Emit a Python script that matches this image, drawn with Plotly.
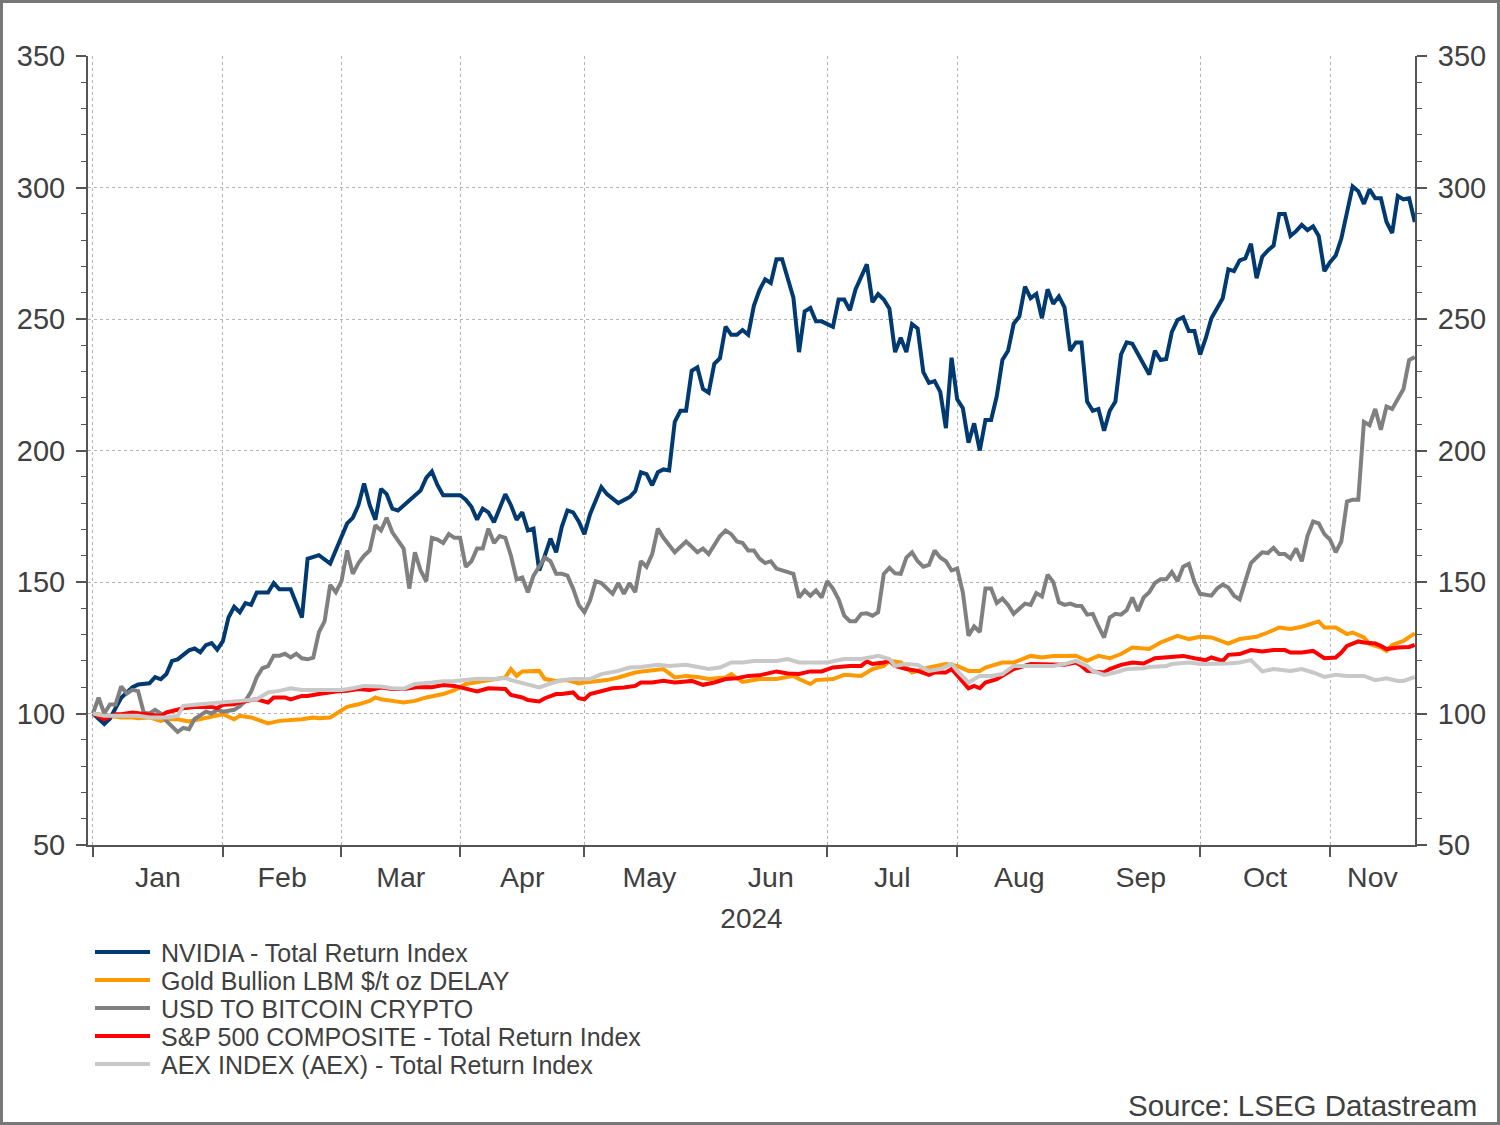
import pandas as pd
import plotly.graph_objects as go

# ---------------- data (business-day number since 1 Jan 2024, index = 100 at start) -------------
series_names = [
    "NVIDIA - Total Return Index",
    "Gold Bullion LBM $/t oz DELAY",
    "USD TO BITCOIN CRYPTO",
    "S&P 500 COMPOSITE - Total Return Index",
    "AEX INDEX (AEX) - Total Return Index",
]
series_colors = ["#003a70", "#ff9900", "#808080", "#ff0000", "#c8c8c8"]

nvda_day = [0, 2, 3, 5, 7, 8, 10, 11, 12, 13,
            14, 15, 17, 18, 19, 20, 21, 22, 23, 24,
            25, 26, 27, 28, 29, 31, 32, 33, 35, 37,
            38, 40, 42, 43, 45, 46, 47, 48, 49, 50,
            51, 52, 53, 54, 55, 57, 58, 59, 60, 61,
            62, 65, 66, 67, 68, 69, 70, 71, 72, 73,
            74, 75, 76, 77, 78, 79, 80, 81, 82, 83,
            84, 85, 86, 87, 88, 90, 91, 93, 95, 96,
            97, 98, 99, 100, 101, 102, 103, 104, 105, 106,
            107, 108, 109, 110, 111, 112, 113, 114, 115, 116,
            117, 118, 119, 120, 121, 122, 124, 125, 126, 127,
            128, 129, 131, 132, 133, 134, 135, 137, 138, 139,
            140, 141, 142, 143, 144, 145, 146, 147, 148, 149,
            150, 151, 152, 153, 154, 155, 156, 157, 158, 159,
            160, 161, 162, 163, 164, 165, 166, 167, 168, 169,
            170, 171, 172, 173, 174, 175, 176, 177, 178, 179,
            180, 181, 182, 183, 184, 185, 187, 188, 189, 190,
            191, 192, 193, 194, 195, 196, 197, 198, 200, 201,
            202, 203, 204, 205, 206, 207, 208, 209, 210, 211,
            212, 213, 214, 215, 216, 217, 218, 219, 220, 221,
            222, 223, 224, 225, 226, 227, 228, 229, 230, 231,
            232, 233, 234]
nvda_val = [100, 96, 98, 106, 110, 111, 111.5, 113.8, 113, 115,
            120, 120.6, 124, 124.7, 123.3, 126, 126.8, 124.3, 127.5, 136.5,
            140.6, 138.5, 142, 141.3, 146, 146, 149.6, 147.2, 147.2, 136.5,
            158.8, 160.2, 157, 162, 172.3, 174.4, 179.2, 187.5, 179.2, 173.7,
            185.4, 183.4, 177.9, 177.2, 179.2, 182.7, 184.8, 189.6, 192, 186.8,
            183, 183, 181.3, 178.6, 173.7, 177.9, 176.5, 172.7, 178.6, 183.4,
            179.2, 173.7, 176.5, 169.6, 170.3, 154.4, 160, 166.5, 161.3, 171,
            177.2, 176.5, 173, 168.2, 175.8, 186.1, 183.4, 180, 182.3, 184.5,
            191.7, 191, 186.8, 191.7, 192.8, 192.4, 210.9, 215.1, 215.1, 230.3,
            231.6, 223.4, 222, 233, 235.1, 247.1, 244, 244, 245.8, 244,
            255, 261, 265.1, 263.7, 272.7, 272.7, 258.1, 237.4, 252.9, 254.2,
            249.1, 249.1, 247, 257.4, 257.4, 253.3, 261.2, 270.8, 256.4, 259.5,
            257.4, 253.9, 237.4, 242.9, 237.4, 248.1, 246.4, 229.8, 225.7, 226.4,
            222.3, 208.5, 235.3, 219.5, 216.1, 203, 210.3, 200, 211.6, 211.6,
            220.6, 234.4, 237.9, 248.2, 251, 262.3, 257.9, 259.5, 250.3, 261.3,
            255.8, 258.6, 254.4, 237.9, 241.1, 241.1, 218.6, 215.1, 215.8, 207.5,
            215.1, 218.6, 236.5, 241.1, 240.6, 236.5, 228.9, 237.9, 234.4, 234.8,
            245.1, 249.6, 250.7, 245.4, 245.4, 236.5, 242.7, 250.3, 257.9, 268.9,
            268.2, 272.3, 273, 278.6, 265.5, 273.7, 276.1, 277.9, 289.9, 289.9,
            281.6, 283.4, 285.8, 283.8, 285.2, 281.6, 268.2, 271.6, 274.1, 280.6,
            290.3, 300.4, 298.6, 293.8, 299.3, 295.9, 295.9, 286.9, 282.7, 296.8,
            295.5, 295.9, 286.9]

gold_day = [0, 1, 3, 5, 7, 8, 10, 12, 13, 15,
            17, 19, 21, 23, 25, 26, 28, 30, 31, 33,
            35, 37, 39, 40, 42, 44, 45, 47, 49, 50,
            51, 53, 55, 57, 59, 62, 64, 66, 69, 71,
            73, 74, 75, 76, 78, 79, 80, 82, 84, 86,
            87, 89, 91, 93, 95, 96, 98, 100, 101, 103,
            105, 107, 109, 112, 113, 115, 118, 121, 124, 125,
            127, 128, 131, 133, 136, 138, 140, 141, 143, 145,
            147, 148, 151, 153, 155, 157, 158, 161, 163, 166,
            168, 170, 172, 174, 176, 178, 180, 182, 184, 187,
            189, 192, 194, 196, 198, 200, 201, 203, 206, 208,
            210, 212, 214, 217, 218, 220, 222, 223, 225, 226,
            228, 229, 230, 232, 234]
gold_val = [100, 99.7, 99.1, 98.5, 98.5, 98.2, 98.5, 97.2, 97.8, 97.8,
            97, 97.8, 98.7, 99.7, 97.8, 99.1, 98.5, 97.2, 96.2, 97.2,
            97.5, 97.8, 98.5, 98.2, 98.5, 101, 102.5, 103.5, 104.8, 106.1,
            105.4, 104.8, 104.2, 104.8, 106.1, 107.4, 108.9, 111.2, 112.4, 113.1,
            113.7, 116.9, 114.3, 116, 116, 116.2, 113.1, 112.4, 112.7, 111.4,
            111.8, 112.4, 112.7, 113.7, 115, 115.6, 116.2, 116.9, 116.9, 113.7,
            114.3, 113.9, 113.1, 113.7, 115, 112, 113.1, 113.1, 114.3, 113.1,
            111.2, 112.7, 113.1, 114.7, 114.3, 116.9, 118.1, 120, 119.4, 115.6,
            116.9, 117.5, 118.8, 118.1, 116.2, 116.2, 117.5, 119.4, 119.4, 121.9,
            121.3, 121.9, 121.9, 122, 120, 121.9, 121, 122.6, 125.1, 124.5,
            127, 129.5, 128.3, 129.2, 128.9, 127.6, 126.6, 128.3, 129.2, 130.8,
            132.7, 132.1, 133, 135, 132.7, 132.7, 130.2, 130.8, 128.9, 126.4,
            125.1, 123.8, 126.1, 127.6, 130.5]

btc_day = [0, 1, 2, 3, 4, 5, 6, 7, 8, 9,
           10, 11, 12, 13, 15, 16, 17, 18, 20, 21,
           22, 23, 25, 26, 27, 28, 29, 30, 31, 32,
           33, 34, 35, 36, 37, 38, 39, 40, 41, 42,
           43, 44, 45, 46, 47, 48, 49, 50, 51, 52,
           53, 55, 56, 57, 58, 59, 60, 61, 62, 63,
           64, 65, 66, 67, 68, 69, 70, 71, 72, 73,
           74, 75, 76, 77, 78, 79, 80, 81, 82, 83,
           84, 85, 86, 87, 88, 89, 90, 92, 93, 94,
           95, 96, 97, 98, 99, 100, 101, 103, 104, 105,
           106, 107, 108, 109, 111, 112, 113, 114, 115, 116,
           117, 118, 119, 120, 121, 122, 124, 125, 126, 127,
           128, 129, 130, 131, 132, 133, 134, 135, 136, 137,
           138, 139, 140, 141, 142, 143, 144, 145, 146, 147,
           148, 149, 150, 151, 152, 153, 154, 155, 156, 157,
           158, 159, 160, 161, 162, 163, 164, 165, 166, 167,
           168, 169, 170, 171, 172, 173, 174, 175, 176, 177,
           178, 179, 180, 181, 182, 183, 184, 185, 186, 187,
           188, 189, 190, 191, 192, 193, 194, 195, 196, 198,
           199, 200, 201, 202, 203, 204, 205, 206, 207, 208,
           209, 210, 211, 212, 213, 214, 215, 216, 217, 218,
           219, 220, 221, 222, 223, 224, 225, 226, 227, 228,
           229, 230, 231, 232, 233, 234]
btc_val = [100, 106, 100, 103.4, 103.4, 110.3, 107.6, 109, 108.5, 100.3,
           100, 101.4, 100, 97.2, 93, 94.5, 94, 97.9, 100.7, 100,
           101.4, 100.7, 101.4, 102.8, 104.8, 108.3, 113.8, 117.2, 118, 122,
           122, 122.7, 121.3, 122.7, 121, 120.6, 121.2, 130.9, 135, 148.9,
           146.1, 150.3, 162, 153.1, 157.2, 160, 162, 171.6, 169.6, 174.4,
           168.9, 162.7, 147.5, 161.3, 154.4, 150.3, 166.8, 166.1, 164.8, 168.2,
           166.8, 166.8, 155.8, 157.9, 162.7, 162.7, 170.3, 164.8, 167.5, 166.8,
           160, 151, 151.7, 146.1, 152.4, 155.8, 159.3, 157.9, 153.1, 153.1,
           152.4, 147.5, 141.3, 138.5, 143, 150.3, 149.6, 145.5, 149.6, 145.5,
           149.6, 146.1, 157.9, 155.8, 160.6, 170.3, 166.8, 161.3, 163.4, 165.4,
           163.4, 161.3, 162.7, 160.6, 167.5, 169.6, 168.2, 165.4, 164.8, 162,
           162, 158.9, 157.2, 157.9, 155.1, 154.4, 153.1, 144.1, 146.8, 144.8,
           146.8, 144.1, 150.3, 147.5, 143.4, 137.2, 135.1, 135.1, 137.9, 138.1,
           137.2, 138.5, 153.1, 155.4, 153.3, 153.1, 159.3, 161.3, 157.9, 155.8,
           156.5, 162, 159.3, 157.9, 154.4, 155.1, 146, 129.6, 133.1, 131,
           147.5, 147.5, 142, 143.7, 141.3, 137.9, 140, 141.8, 141.3, 145.8,
           144.5, 152.8, 150, 142.3, 141.3, 141.8, 141, 140.9, 137.6, 137.9,
           133.1, 128.9, 136.5, 137.9, 137.6, 139.3, 144.1, 139, 144.1, 146.1,
           149.6, 151, 151, 153.8, 150.3, 155.8, 156.9, 150, 145.5, 144.8,
           147.5, 149, 147.9, 144.8, 143.4, 150.3, 157.2, 159.3, 161.3, 161,
           163, 160.6, 160.6, 158.9, 162.7, 157.9, 167.5, 173, 172.3, 168.2,
           166.1, 161.3, 165.4, 180.6, 181.3, 181.3, 210.9, 209.6, 215.8, 207.9,
           216.7, 215.8, 220, 223.4, 234.4, 235.5]

spx_day = [0, 1, 2, 4, 5, 7, 8, 10, 12, 13,
           15, 16, 18, 19, 21, 22, 23, 25, 26, 28,
           29, 31, 32, 34, 35, 37, 38, 40, 42, 43,
           45, 47, 49, 51, 53, 55, 57, 58, 60, 62,
           64, 66, 68, 70, 71, 73, 74, 76, 77, 79,
           80, 82, 83, 85, 86, 87, 88, 90, 92, 94,
           96, 97, 99, 101, 103, 105, 106, 108, 110, 112,
           114, 116, 118, 121, 123, 125, 127, 129, 131, 134,
           136, 137, 138, 140, 141, 142, 144, 146, 148, 149,
           151, 152, 153, 155, 156, 157, 158, 160, 161, 163,
           166, 167, 170, 172, 174, 175, 176, 179, 180, 182,
           184, 186, 188, 190, 193, 195, 197, 198, 200, 201,
           203, 205, 207, 209, 211, 212, 214, 216, 218, 220,
           221, 222, 224, 225, 227, 228, 229, 231, 233, 234]
spx_val = [100, 99.1, 97.8, 99.7, 99.7, 100.4, 100.1, 99.7, 99.1, 100.4,
           101.3, 102, 102.5, 102.5, 102.5, 102, 103.3, 103.5, 104.2, 105.1,
           105.4, 104.2, 106.1, 106.1, 105.4, 106.7, 106.7, 107.4, 108, 108.4,
           108.6, 109.3, 108.9, 109.9, 109.3, 109.3, 109.9, 110.1, 110, 110.8,
           110.5, 109.3, 108.4, 109.6, 109.6, 109.3, 107.1, 106.1, 105.1, 104.6,
           105.8, 107.4, 107.4, 108, 105.8, 105.4, 107.4, 108.6, 109.6, 109.9,
           110.5, 111.8, 111.8, 112.4, 111.8, 112.2, 112.4, 110.9, 111.8, 113.1,
           113.4, 114.3, 114.5, 116, 115.2, 115, 116, 116, 117.5, 118.1,
           118.1, 119.8, 118.8, 119.4, 120, 118.1, 116.9, 116.2, 114.7, 115.6,
           115.6, 116.9, 114.3, 109.6, 110.5, 109.6, 111.8, 113.1, 114.3, 116.9,
           118.8, 118.8, 118.8, 118.5, 119.4, 118.1, 116.2, 115.6, 116.9, 118.5,
           119.4, 119, 121, 121.3, 121.9, 121, 120.3, 121.3, 120, 122.3,
           122.6, 124.1, 123.6, 124.1, 124.1, 123.2, 123.2, 123.8, 121, 121.3,
           123.2, 125.7, 127.4, 127, 126.6, 125.7, 124.5, 125.1, 125.3, 126.1]

aex_day = [0, 2, 5, 8, 10, 13, 15, 16, 19, 21,
           23, 26, 29, 31, 33, 35, 37, 39, 42, 44,
           46, 48, 51, 53, 55, 57, 60, 62, 64, 68,
           71, 73, 74, 77, 79, 81, 83, 85, 88, 90,
           93, 95, 97, 100, 102, 105, 107, 109, 111, 113,
           115, 117, 121, 123, 125, 127, 130, 133, 136, 138,
           139, 141, 142, 144, 146, 148, 150, 152, 153, 155,
           157, 159, 161, 163, 166, 170, 172, 174, 176, 177,
           179, 181, 183, 186, 187, 190, 191, 194, 196, 198,
           201, 203, 205, 207, 209, 212, 214, 216, 218, 220,
           222, 225, 227, 229, 231, 232, 234]
aex_val = [100, 99.1, 99.1, 99.1, 98.5, 98.5, 99.1, 102.9, 103.5, 103.8,
           104.2, 104.8, 105.4, 108, 108.6, 109.6, 108.9, 108.9, 108.6, 108.9,
           109.6, 110.5, 110.3, 109.6, 109.4, 111.2, 111.8, 112.3, 112.4, 113.2,
           113.1, 113.5, 112.7, 111.2, 109.9, 111.4, 112.7, 113.1, 113.1, 115,
           116.2, 117.5, 117.7, 118.5, 118.1, 118.5, 117.7, 116.9, 117.5, 119.4,
           119.4, 120, 120, 120.7, 119.4, 119.4, 119.4, 120.7, 120.7, 121.5,
           121.9, 120.7, 118.1, 118.8, 118.5, 116.2, 116.9, 118.8, 116.2, 111.8,
           114.3, 114.3, 115, 118.1, 118.1, 118.1, 118.8, 120, 118.1, 116.2,
           114.7, 115.6, 116.9, 117.2, 117.7, 118.1, 118.8, 119.4, 118.8, 118.8,
           119, 119.4, 120.3, 116, 116.9, 116.2, 116.9, 115.6, 113.9, 114.7,
           114.3, 114.3, 112.7, 113.4, 112.4, 112.4, 113.9]

series_days = [nvda_day, gold_day, btc_day, spx_day, aex_day]
series_vals = [nvda_val, gold_val, btc_val, spx_val, aex_val]

month_labels = ["Jan", "Feb", "Mar", "Apr", "May", "Jun", "Jul", "Aug", "Sep", "Oct", "Nov"]
y_ticks = [50, 100, 150, 200, 250, 300, 350]

# ---------------- build -------------
bdays = pd.bdate_range("2024-01-01", "2024-11-22")
last = len(bdays) - 1

FONT = "Liberation Sans, Arial, sans-serif"
TXT = "#404040"
AX = "#555555"
GRID = "#b4b4b4"
LW = 4

fig = go.Figure()
for name, col, d, v in zip(series_names, series_colors, series_days, series_vals):
    assert len(d) == len(v), name
    fig.add_trace(go.Scatter(
        x=[bdays[i] for i in d], y=v, name=name, mode="lines",
        line=dict(color=col, width=LW), hoverinfo="x+y+name", showlegend=False))

# invisible helper trace for the mirrored right-hand axis
fig.add_trace(go.Scatter(x=[bdays[0]], y=[None], yaxis="y2", showlegend=False,
                         hoverinfo="skip", mode="lines"))

# month boundaries (ticks + grid) and month label positions (centre of each month)
month_first = []
label_pos = []
months = bdays.to_period("M")
for per in months.unique():
    idx = [i for i, m in enumerate(months) if m == per]
    i0, i1 = idx[0], idx[-1]
    month_first.append(pd.Timestamp(per.start_time))
    end = min(i1 + 1, last)
    mid = (i0 + end) / 2.0
    base = bdays[int(mid)]
    label_pos.append(base + pd.Timedelta(hours=24 * (mid - int(mid))))

L, R, T, B = 88, 85, 56, 280
pw, ph = 1500 - L - R, 1125 - T - B


def px(xpix):
    return (xpix - L) / pw


def py(ypix):
    return 1 - (ypix - T) / ph


fig.update_layout(
    width=1500, height=1125,
    margin=dict(l=L, r=R, t=T, b=B, autoexpand=False),
    paper_bgcolor="white", plot_bgcolor="white",
    font=dict(family=FONT, color=TXT, size=24),
    showlegend=False,
    xaxis=dict(
        type="date",
        range=[pd.Timestamp("2023-12-29 03:00"), pd.Timestamp("2024-11-22 01:00")],
        rangebreaks=[dict(bounds=["sat", "mon"])],
        tickmode="array", tickvals=label_pos, ticktext=month_labels,
        ticks="", showgrid=False,
        tickfont=dict(size=28.5, color=TXT), ticklabelstandoff=6,
        showline=True, linecolor=AX, linewidth=2,
        minor=dict(tickmode="array", tickvals=month_first, ticks="outside",
                   ticklen=10, tickwidth=1.5, tickcolor=AX,
                   showgrid=True, gridcolor=GRID, griddash="dot", gridwidth=1),
        title=dict(text="2024", font=dict(size=28, color=TXT), standoff=16),
        zeroline=False, automargin=False,
    ),
    yaxis=dict(
        range=[50, 350], tickmode="array", tickvals=y_ticks,
        ticks="outside", ticklen=10, tickwidth=1.5, tickcolor=AX,
        tickfont=dict(size=29, color=TXT), ticklabelstandoff=5,
        showline=True, linecolor=AX, linewidth=2,
        showgrid=True, gridcolor=GRID, griddash="dot", gridwidth=1,
        minor=dict(dtick=10, tick0=50, ticks="outside", ticklen=5,
                   tickwidth=1, tickcolor=AX, showgrid=False),
        zeroline=False, automargin=False,
    ),
    yaxis2=dict(
        overlaying="y", side="right", anchor="x",
        range=[50, 350], tickmode="array", tickvals=y_ticks,
        ticks="outside", ticklen=10, tickwidth=1.5, tickcolor=AX,
        tickfont=dict(size=29, color=TXT), ticklabelstandoff=5,
        showline=True, linecolor=AX, linewidth=2, showgrid=False,
        minor=dict(dtick=10, tick0=50, ticks="outside", ticklen=5,
                   tickwidth=1, tickcolor=AX, showgrid=False),
        zeroline=False, automargin=False,
    ),
)

# legend drawn below the chart: coloured line sample + series name
legend_rows = [952, 980, 1008, 1036, 1064]
for name, col, yrow in zip(series_names, series_colors, legend_rows):
    fig.add_shape(type="line", xref="paper", yref="paper",
                  x0=px(95), x1=px(150), y0=py(yrow), y1=py(yrow),
                  line=dict(color=col, width=LW))
    fig.add_annotation(text=name, xref="paper", yref="paper",
                       x=px(159), y=py(yrow + 1), xanchor="left", yanchor="middle",
                       showarrow=False, font=dict(size=25, color=TXT, family=FONT))

# outer frame of the picture
fig.add_shape(type="rect", xref="paper", yref="paper", layer="above",
              x0=px(1.5), x1=px(1498.5), y0=py(1123.5), y1=py(1.5),
              line=dict(color="#777777", width=3))

fig.add_annotation(text="Source: LSEG Datastream", xref="paper", yref="paper",
                   x=px(1479), y=py(1105), xanchor="right", yanchor="middle",
                   showarrow=False, font=dict(size=29.5, color=TXT, family=FONT))

fig.write_html("out.html")
